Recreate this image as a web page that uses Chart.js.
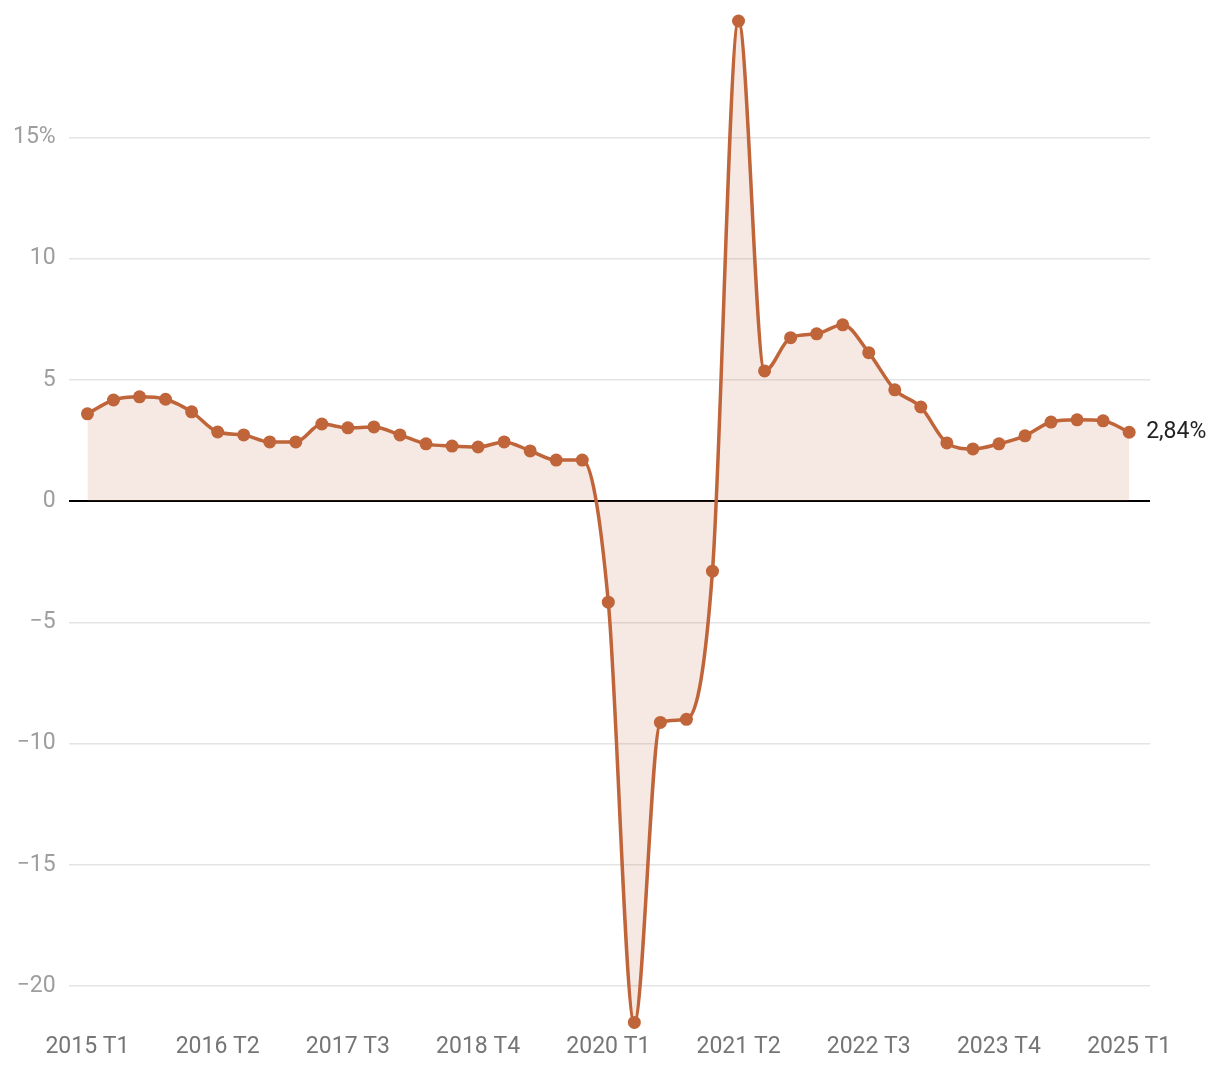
<!DOCTYPE html>
<html>
<head>
<meta charset="utf-8">
<script src="https://cdn.jsdelivr.net/npm/chart.js@4"></script>
<style>
  html, body { margin: 0; padding: 0; background: #fff; }
  #wrap { width: 1220px; height: 1072px; }
</style>
</head>
<body>
<div id="wrap"><canvas id="chart1"></canvas></div>
<script>
// quarters 2015 T1 .. 2025 T1
const quarters = [];
for (let y = 2015; y <= 2025; y++) {
    for (let q = 1; q <= 4; q++) {
        if (y === 2025 && q > 1) break;
        quarters.push(y + ' T' + q);
    }
}

// year-on-year growth, %
const growth = [
    3.60, 4.17, 4.30, 4.20,
    3.68, 2.85, 2.73, 2.44,
    2.44, 3.18, 3.02, 3.06,
    2.73, 2.36, 2.27, 2.23,
    2.44, 2.07, 1.69, 1.69,
    -4.17, -21.5, -9.13, -9.00,
    -2.89, 19.8, 5.37, 6.74,
    6.90, 7.27, 6.12, 4.59,
    3.88, 2.40, 2.15, 2.36,
    2.69, 3.26, 3.35, 3.31,
    2.84
];

const lastLabel = '2,84%';
const xTickEvery = 5;
const yStep = 5;

const lineColor = '#c0643a';
const fillColor = 'rgba(192,100,60,0.15)';
const fontSize = 23;

const points = growth.map((v, i) => ({ x: i, y: v }));

const endLabel = {
    id: 'endLabel',
    afterDatasetsDraw(chart) {
        const meta = chart.getDatasetMeta(0);
        const p = meta.data[meta.data.length - 1];
        const c = chart.ctx;
        c.save();
        c.font = fontSize + 'px Roboto';
        c.fillStyle = '#222';
        c.textAlign = 'left';
        c.textBaseline = 'middle';
        c.fillText(lastLabel, p.x + 17, p.y);
        c.restore();
    }
};

const ctx1 = document.getElementById('chart1').getContext('2d');

const chart1 = new Chart(ctx1, {
    type: 'line',
    data: {
        datasets: [{
            data: points,
            borderColor: lineColor,
            backgroundColor: fillColor,
            borderWidth: 3.5,
            fill: 'origin',
            cubicInterpolationMode: 'monotone',
            pointRadius: 6.5,
            pointBackgroundColor: lineColor,
            pointBorderWidth: 0,
            clip: false
        }]
    },
    options: {
        animation: false,
        responsive: true,
        maintainAspectRatio: false,
        layout: { padding: { top: 21, right: 70, bottom: 0, left: 0 } },
        plugins: {
            legend: { display: false },
            tooltip: { enabled: false }
        },
        scales: {
            x: {
                type: 'linear',
                min: -0.72,
                max: growth.length - 1 + 0.8,
                afterBuildTicks(scale) {
                    const t = [];
                    for (let i = 0; i < quarters.length; i += xTickEvery) t.push({ value: i });
                    scale.ticks = t;
                },
                grid: { display: false, drawTicks: false },
                border: { display: false },
                ticks: {
                    autoSkip: false,
                    maxRotation: 0,
                    padding: 11,
                    color: '#757575',
                    font: { family: 'Roboto', size: fontSize },
                    callback: (v) => quarters[v]
                }
            },
            y: {
                min: Math.min(...growth),
                max: Math.max(...growth),
                afterBuildTicks(scale) {
                    const t = [];
                    for (let v = Math.ceil(scale.min / yStep) * yStep; v <= scale.max; v += yStep) t.push({ value: v });
                    scale.ticks = t;
                },
                afterFit(scale) {
                    scale.paddingTop = 0;
                    scale.paddingBottom = 0;
                },
                grid: {
                    color: (c) => c.tick && c.tick.value === 0 ? '#000' : '#e4e4e4',
                    lineWidth: (c) => c.tick && c.tick.value === 0 ? 2 : 1.5,
                    drawTicks: false
                },
                border: { display: false },
                ticks: {
                    padding: 13,
                    color: '#9e9e9e',
                    font: { family: 'Roboto', size: fontSize },
                    callback: (v) => {
                        if (v === 15) return '15%';
                        return v < 0 ? '\u2212' + Math.abs(v) : String(v);
                    }
                }
            }
        }
    },
    plugins: [endLabel]
});
</script>
</body>
</html>
